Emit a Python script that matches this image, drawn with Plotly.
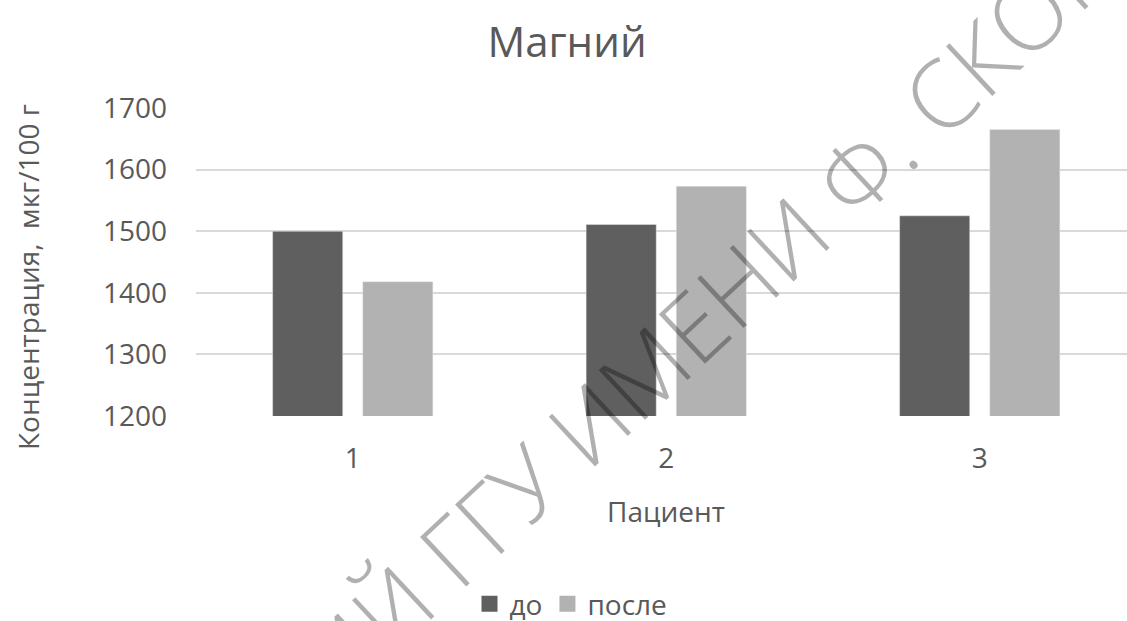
import plotly.graph_objects as go

patients = ["1", "2", "3"]
before = [1500, 1511, 1525]
after = [1418, 1573, 1665]
y_ticks = [1200, 1300, 1400, 1500, 1600, 1700]
series_names = ["до", "после"]
title_text = "Магний"
y_title = "Концентрация,  мкг/100 г"
x_title = "Пациент"
watermark = "РЕПОЗИТОРИЙ ГГУ ИМЕНИ Ф. СКОРИНЫ"

DARK = "#5f5f5f"
LIGHT = "#b2b2b2"
TXT = "#595959"
FONT = "Open Sans"

xs = list(range(len(patients)))

fig = go.Figure()
fig.add_trace(go.Bar(x=xs, y=before, name=series_names[0], marker_color=DARK,
                     showlegend=False))
fig.add_trace(go.Bar(x=xs, y=after, name=series_names[1], marker_color=LIGHT,
                     showlegend=False))
# legend entries with larger square symbols
for nm, col in zip(series_names, [DARK, LIGHT]):
    fig.add_trace(go.Scatter(x=[None], y=[None], mode="markers", name=nm,
                             marker=dict(symbol="square", size=20, color=col)))

W, H = 1127, 621
L, R, T, B = 196, 0, 108, 205
pw, ph = W - L - R, H - T - B

def px2paper(px, py):
    return (px - L) / pw, (H - B - py) / ph

fig.update_layout(
    width=W, height=H,
    margin=dict(l=L, r=R, t=T, b=B),
    paper_bgcolor="white", plot_bgcolor="white",
    barmode="group", bargap=0.425, bargroupgap=0.222,
    font=dict(family=FONT, size=28, color=TXT),
    title=dict(text=title_text, x=567 / W, xref="container", xanchor="center",
               y=1 - 42 / H, yref="container", yanchor="middle",
               font=dict(size=42, color=TXT, family=FONT)),
    legend=dict(orientation="h", xref="container", yref="container",
                x=571 / W, xanchor="center", y=17 / H, yanchor="middle",
                font=dict(size=28, color=TXT), itemsizing="trace",
                itemwidth=30, bgcolor="rgba(0,0,0,0)"),
    xaxis=dict(range=[-0.5, -0.5 + pw / 313.5], tickmode="array",
               tickvals=xs, ticktext=patients, showgrid=False, zeroline=False,
               showline=False, ticks="", ticklabelstandoff=23,
               tickfont=dict(size=28, color=TXT)),
    yaxis=dict(range=[1200, 1700], tickmode="array", tickvals=y_ticks,
               showgrid=True, gridcolor="#d9d9d9", gridwidth=2,
               zeroline=False, showline=False, ticks="",
               ticklabelstandoff=28, tickfont=dict(size=28, color=TXT)),
)

ax, ay = px2paper(28, 277)
fig.add_annotation(text=y_title, xref="paper", yref="paper", x=ax, y=ay,
                   xanchor="center", yanchor="middle", textangle=-90,
                   showarrow=False, font=dict(size=28, color=TXT, family=FONT))
bx, by = px2paper(0, 511)
fig.add_annotation(text=x_title, xref="x", yref="paper", x=1, y=by,
                   xanchor="center", yanchor="middle", showarrow=False,
                   font=dict(size=28, color=TXT, family=FONT))
wx, wy = px2paper(582, 428)
fig.add_annotation(text=watermark, xref="paper", yref="paper", x=wx, y=wy,
                   xanchor="center", yanchor="middle", textangle=-43,
                   showarrow=False,
                   font=dict(size=95, color="rgba(0,0,0,0.31)", family=FONT,
                             weight=300))

fig.write_html("out.html")
